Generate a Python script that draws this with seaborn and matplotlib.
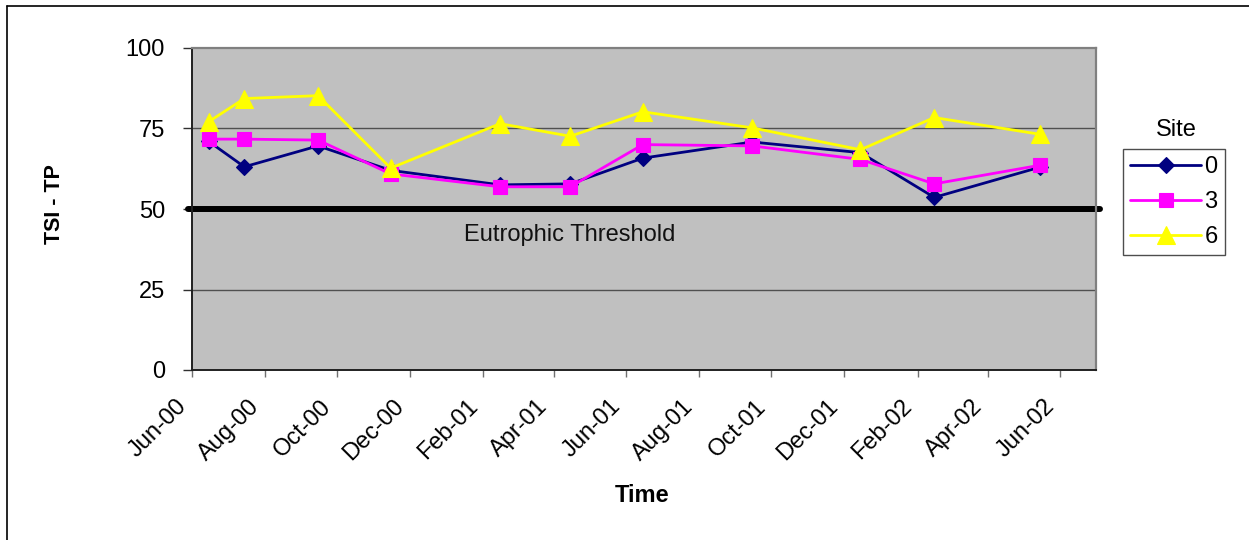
import matplotlib
matplotlib.use("Agg")
import matplotlib.pyplot as plt
import matplotlib.dates as mdates
from matplotlib.lines import Line2D
from matplotlib.transforms import ScaledTranslation
import pandas as pd
import seaborn as sns

# Sampling dates and Trophic State Index (total phosphorus) per site
sample_dates = ["2000-06-15", "2000-07-15", "2000-09-15", "2000-11-15", "2001-02-15",
                "2001-04-15", "2001-06-15", "2001-09-15", "2001-12-15", "2002-02-15",
                "2002-05-15"]
site_0 = [71.0, 63.1, 69.6, 62.0, 57.5, 57.8, 65.8, 70.8, 67.5, 53.6, 63.0]
site_3 = [71.7, 71.7, 71.4, 60.9, 56.9, 56.9, 70.0, 69.6, 65.4, 57.8, 63.6]
site_6 = [77.1, 84.3, 85.2, 62.7, 76.5, 72.6, 80.2, 75.2, 68.4, 78.4, 73.2]
site_names = ["0", "3", "6"]
threshold = 50
threshold_label = "Eutrophic Threshold"
y_ticks = [0, 25, 50, 75, 100]

df = pd.DataFrame({
    "date": pd.to_datetime(sample_dates * 3),
    "tsi": site_0 + site_3 + site_6,
    "site": [s for s in site_names for _ in sample_dates],
})

sns.set_theme(style="white")
plt.rcParams["font.family"] = ["Liberation Sans", "DejaVu Sans"]
plt.rcParams["text.color"] = "black"
plt.rcParams["xtick.color"] = "black"
plt.rcParams["ytick.color"] = "black"
plt.rcParams["xtick.labelcolor"] = "black"
plt.rcParams["ytick.labelcolor"] = "black"
FS = 17

fig = plt.figure(figsize=(12.49, 5.40), dpi=100)
ax = fig.add_axes([192 / 1249, 1 - 370 / 540, (1096 - 192) / 1249, (370 - 48) / 540])
ax.set_facecolor("#C0C0C0")

styles = {
    "0": dict(color="#000080", marker="D", markersize=8.5),
    "3": dict(color="#FF00FF", marker="s", markersize=10.5),
    "6": dict(color="#FFFF00", marker="^", markersize=12.5),
}
for s in site_names:
    st = styles[s]
    sns.lineplot(data=df[df["site"] == s], x="date", y="tsi", ax=ax,
                 color=st["color"], marker=st["marker"], markersize=st["markersize"],
                 markeredgecolor=st["color"], markeredgewidth=0.8,
                 linewidth=2.0, label=s, zorder=3)

# horizontal gridlines
for yv in [25, 75]:
    ax.axhline(yv, color="#505050", lw=1.0, zorder=1)

# threshold line
ax.axhline(threshold, xmin=-0.004, xmax=1.004, color="black", lw=4.3,
           solid_capstyle="round", clip_on=False, zorder=2)
ax.text(0.418, 40.0, threshold_label, transform=ax.get_yaxis_transform(),
        ha="center", va="baseline", fontsize=FS, color="#111111", zorder=4)

ax.set_ylim(0, 100)
ax.set_yticks(y_ticks)
ax.set_yticklabels([str(v) for v in y_ticks], fontsize=FS)

ax.set_xlim(pd.Timestamp("2000-06-01"), pd.Timestamp("2002-07-01"))
ax.xaxis.set_major_locator(mdates.MonthLocator(bymonth=[2, 4, 6, 8, 10, 12]))
ax.xaxis.set_major_formatter(mdates.DateFormatter("%b-%y"))
ax.tick_params(axis="y", direction="out", length=6.5, width=1, color="#303030",
               pad=13, left=True, labelsize=FS, labelcolor="black")
ax.tick_params(axis="x", direction="out", length=5, width=1, color="#707070",
               pad=19, bottom=True, labelsize=FS, labelcolor="black")
shift = ScaledTranslation(-9 / 100, 0, fig.dpi_scale_trans)
for lab in ax.get_xticklabels():
    lab.set_rotation(45)
    lab.set_rotation_mode("anchor")
    lab.set_ha("right")
    lab.set_va("center")
    lab.set_transform(lab.get_transform() + shift)

ax.set_xlabel("")
ax.set_ylabel("")
for side in ["top", "right"]:
    ax.spines[side].set_color("#808080")
    ax.spines[side].set_linewidth(1.6)
for side in ["left", "bottom"]:
    ax.spines[side].set_color("#202020")
    ax.spines[side].set_linewidth(1.4)
    ax.spines[side].set_visible(True)

fig.text(54.5 / 1249, 1 - 204 / 540, "TSI - TP", rotation=90, ha="center", va="center",
         fontsize=FS - 1.5, fontweight="bold", color="black")
fig.text(642 / 1249, 1 - 495 / 540, "Time", ha="center", va="center",
         fontsize=FS, fontweight="bold", color="black")

leg = ax.legend(loc="upper left", bbox_to_anchor=(1123 / 1249, 1 - 149 / 540),
                bbox_transform=fig.transFigure, borderaxespad=0, frameon=True,
                fancybox=False, edgecolor="#202020", fontsize=FS, handlelength=3.0,
                handletextpad=0.15, labelspacing=0.55, borderpad=0.3)
leg.get_frame().set_linewidth(1.0)
for t in leg.get_texts():
    t.set_color("black")
fig.text(1176 / 1249, 1 - 130 / 540, "Site", ha="center", va="center", fontsize=FS,
         color="black")

# outer chart frame
fig.add_artist(Line2D([7 / 1249, 7 / 1249], [0, 1 - 6 / 540], transform=fig.transFigure,
                      color="black", lw=1.2))
fig.add_artist(Line2D([7 / 1249, 1], [1 - 6 / 540, 1 - 6 / 540], transform=fig.transFigure,
                      color="black", lw=1.2))

fig.savefig("out.png", dpi=100, facecolor="white")
